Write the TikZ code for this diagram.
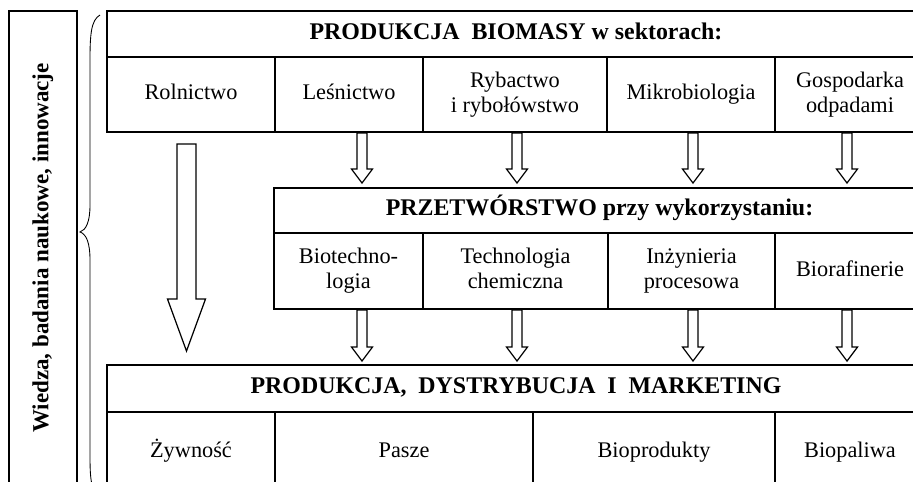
\documentclass[tikz,border=0pt]{standalone}
\usepackage{fontspec}
\setmainfont{Liberation Serif}
\usetikzlibrary{calc}
\tikzset{
  cell/.style={draw, line width=1.1pt, inner sep=1pt, align=center,
    font=\fontsize{12.7}{14.2}\selectfont},
  oneline/.style={cell, text height=9pt, text depth=3pt},
  twoline/.style={cell, text height=23.2pt, text depth=3pt},
  head/.style={oneline, font=\fontsize{13.6}{15}\selectfont\bfseries},
  % open block arrow: start gap / shaft half / head half / head length / end gap
  block/.style n args={5}{line width=0.7pt, to path={
    ($(\tikztostart)+(-#2,#1)$) -- ($(\tikztostart)+(#2,#1)$)
    -- ($(\tikztotarget)+(#2,-#4-#5)$) -- ($(\tikztotarget)+(#3,-#4-#5)$)
    -- ($(\tikztotarget)+(0,-#5)$) -- ($(\tikztotarget)+(-#3,-#4-#5)$)
    -- ($(\tikztotarget)+(-#2,-#4-#5)$) -- cycle}}
}

\begin{document}
\begin{tikzpicture}[x=0.02cm, y=-0.02cm]
	\useasboundingbox (0,0) rectangle (913,481);
	\clip (0,0) rectangle (913,481);
	%
	\node[oneline, rotate=90, minimum width=9.48cm, minimum height=1.36cm,
	  font=\fontsize{13.1}{15}\selectfont\bfseries] (wiedza) at (43,248) {Wiedza, badania naukowe, innowacje};
	\draw[line width=0.5pt] (100,15) .. controls (91,20) and (90,35) .. (90,60) -- (90,205)
	  .. controls (90,222) and (86,230) .. (80,232) .. controls (86,234) and (90,242) .. (90,260)
	  -- (90,455) .. controls (90,480) and (91,490) .. (100,498);
	%
	\begin{scope}
	\node[head, minimum width=16.36cm, minimum height=0.92cm] (head1) at (516,34) {PRODUKCJA\ \ BIOMASY w sektorach:};
	\node[oneline, minimum width=3.36cm, minimum height=1.5cm] (rol) at (191,94.5) {Rolnictwo};
	\node[oneline, minimum width=2.96cm, minimum height=1.5cm] (les) at (349,94.5) {Leśnictwo};
	\node[twoline, minimum width=3.68cm, minimum height=1.5cm] (ryb) at (515,94.5) {Rybactwo\\i rybołówstwo};
	\node[oneline, minimum width=3.36cm, minimum height=1.5cm] (mik) at (691,94.5) {Mikrobiologia};
	\node[twoline, minimum width=3.0cm, minimum height=1.5cm] (gos) at (850,94.5) {Gospodarka\\odpadami};
	\end{scope}
	%
	\begin{scope}
	\node[head, minimum width=13.02cm, minimum height=0.9cm] (head2) at (599.5,210.5) {PRZETWÓRSTWO przy wykorzystaniu:};
	\node[twoline, minimum width=2.98cm, minimum height=1.52cm] (bio) at (348.5,271) {Biotechno-\\logia};
	\node[twoline, minimum width=3.7cm, minimum height=1.52cm] (tech) at (515.5,271) {Technologia\\chemiczna};
	\node[twoline, minimum width=3.34cm, minimum height=1.52cm] (inz) at (691.5,271) {Inżynieria\\procesowa};
	\node[oneline, minimum width=3.0cm, minimum height=1.52cm] (raf) at (850,271) {Biorafinerie};
	\end{scope}
	%
	\begin{scope}
	\node[head, minimum width=16.36cm, minimum height=0.94cm] (head3) at (516,388.5) {PRODUKCJA,\ \ DYSTRYBUCJA\ \ I\ \ MARKETING};
	\node[oneline, minimum width=3.36cm, minimum height=1.6cm] (zyw) at (191,452) {Żywność};
	\node[oneline, minimum width=5.16cm, minimum height=1.6cm] (pas) at (404,452) {Pasze};
	\node[oneline, minimum width=4.84cm, minimum height=1.6cm] (bprod) at (654,452) {Bioprodukty};
	\node[oneline, minimum width=3.0cm, minimum height=1.6cm] (bpal) at (850,452) {Biopaliwa};
	\end{scope}
	%
	\coordinate (c1) at (362,0);
	\coordinate (c2) at (517,0);
	\coordinate (c3) at (693,0);
	\coordinate (c4) at (847,0);
	\coordinate (cb) at (186.5,0);
	\draw[block={0}{5}{10.5}{14}{4}] (les.south -| c1) to (head2.north -| c1);
	\draw[block={0}{5}{10.5}{14}{4}] (ryb.south -| c2) to (head2.north -| c2);
	\draw[block={0}{5}{10.5}{14}{4}] (mik.south -| c3) to (head2.north -| c3);
	\draw[block={0}{5}{10.5}{14}{4}] (gos.south -| c4) to (head2.north -| c4);
	\draw[block={0}{5}{10.5}{14}{3}] (bio.south -| c1) to (head3.north -| c1);
	\draw[block={0}{5}{10.5}{14}{3}] (tech.south -| c2) to (head3.north -| c2);
	\draw[block={0}{5}{10.5}{14}{3}] (inz.south -| c3) to (head3.north -| c3);
	\draw[block={0}{5}{10.5}{14}{3}] (raf.south -| c4) to (head3.north -| c4);
	\draw[block={11}{9.5}{19}{52}{13}] (rol.south -| cb) to (head3.north -| cb);
\end{tikzpicture}
\end{document}
